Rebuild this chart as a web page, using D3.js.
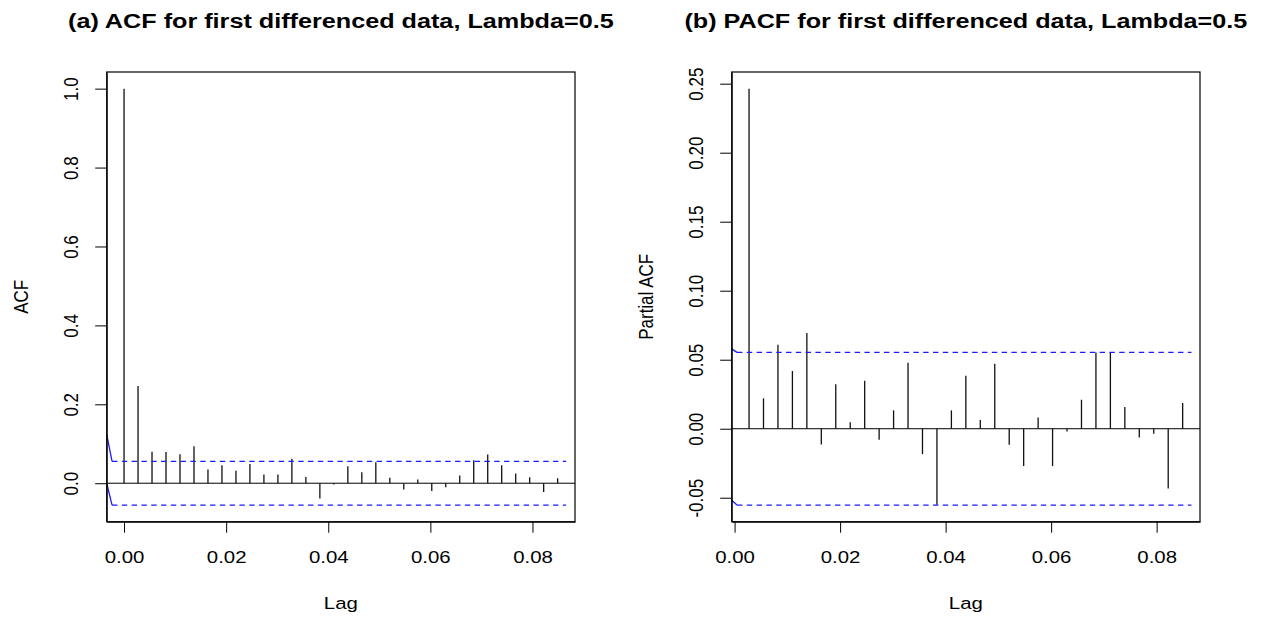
<!DOCTYPE html>
<html>
<head>
<meta charset="utf-8">
<script src="https://cdn.jsdelivr.net/npm/d3@7"></script>
<style>
  body { margin: 0; background: #fff; }
  text { font-family: "Liberation Sans", Arial, sans-serif; fill: #000; }
</style>
</head>
<body>
<svg id="chart"></svg>
<script>
// lags are k/365 (daily series)
const acfLags = d3.range(0, 32);
const acfValues = [1.0, 0.2466, 0.0797, 0.079, 0.0737, 0.094, 0.0347, 0.0458, 0.0314, 0.049,
  0.022, 0.022, 0.0619, 0.016, -0.039, -0.003, 0.0432, 0.028, 0.0534, 0.0136,
  -0.016, 0.0093, -0.0195, -0.0102, 0.0195, 0.0585, 0.073, 0.0458, 0.0246, 0.0153,
  -0.022, 0.0127];

const pacfLags = d3.range(1, 32);
const pacfValues = [0.2464, 0.022, 0.0609, 0.0418, 0.0693, -0.0114, 0.0323, 0.0046, 0.0348, -0.008,
  0.0133, 0.0478, -0.0184, -0.0551, 0.0133, 0.0384, 0.0063, 0.0471, -0.0116, -0.0271,
  0.0082, -0.0271, -0.002, 0.021, 0.0553, 0.0553, 0.0157, -0.0063, -0.0036, -0.0433,
  0.0186];

const ciLevel = 0.0553;
// confidence band polylines [lag, value]; first segment is the solid lead-in
const acfCiUpper = [[-0.0034, 0.124], [-0.00235, 0.0553], [0.0866, 0.0553]];
const acfCiLower = [[-0.0034, 0.0], [-0.00235, -0.0553], [0.0866, -0.0553]];
const pacfCiUpper = [[-0.0005, 0.0577], [0.00046, 0.0553], [0.0866, 0.0553]];
const pacfCiLower = [[-0.0005, -0.052], [0.00046, -0.0553], [0.0866, -0.0553]];

const lagTicks = [0, 0.02, 0.04, 0.06, 0.08];
const acfTicks = [0, 0.2, 0.4, 0.6, 0.8, 1.0];
const pacfTicks = [-0.05, 0, 0.05, 0.10, 0.15, 0.20, 0.25];

const titles = ['(a) ACF for first differenced data, Lambda=0.5', '(b) PACF for first differenced data, Lambda=0.5'];

const stretch = 'scale(1.2,1)';

class AcfChart {

  constructor(_config, _data) {
    this.config = {
      parent: _config.parent,
      left: _config.left,
      right: _config.right,
      top: _config.top || 72,
      bottom: _config.bottom || 521.7,
      title: _config.title,
      ylabel: _config.ylabel,
      yTicks: _config.yTicks,
      yFormat: _config.yFormat
    };
    this.data = _data;
    this.initVis();
  }

  initVis() {
    let vis = this;
    const c = vis.config;

    // R-style 4% range extension
    const lagExt = d3.extent(vis.data.lags, k => k / 365);
    const xPad = (lagExt[1] - lagExt[0]) * 0.04;
    const yMin = Math.min(d3.min(vis.data.values), -ciLevel);
    const yMax = Math.max(d3.max(vis.data.values), ciLevel);
    const yPad = (yMax - yMin) * 0.04;

    vis.xScale = d3.scaleLinear()
        .domain([lagExt[0] - xPad, lagExt[1] + xPad])
        .range([c.left, c.right]);

    vis.yScale = d3.scaleLinear()
        .domain([yMin - yPad, yMax + yPad])
        .range([c.bottom, c.top]);

    vis.g = c.parent.append('g');

    const clipId = 'clip' + Math.round(c.left);
    vis.g.append('clipPath').attr('id', clipId)
      .append('rect')
        .attr('x', c.left).attr('y', c.top)
        .attr('width', c.right - c.left).attr('height', c.bottom - c.top);

    vis.plot = vis.g.append('g').attr('clip-path', `url(#${clipId})`);

    // axes
    vis.xAxis = d3.axisBottom(vis.xScale)
        .tickValues(lagTicks)
        .tickFormat(d => d.toFixed(2))
        .tickSizeInner(11)
        .tickSizeOuter(0);

    vis.yAxis = d3.axisLeft(vis.yScale)
        .tickValues(c.yTicks)
        .tickFormat(c.yFormat)
        .tickSizeInner(11.5)
        .tickSizeOuter(0);

    vis.xAxisG = vis.g.append('g')
        .attr('transform', `translate(0,${c.bottom})`)
        .call(vis.xAxis);

    vis.yAxisG = vis.g.append('g')
        .attr('transform', `translate(${c.left},0)`)
        .call(vis.yAxis);

    vis.xAxisG.selectAll('.tick text')
        .attr('y', null).attr('dy', null)
        .attr('text-anchor', 'middle')
        .attr('font-size', 17)
        .attr('transform', `translate(0,41.5) ${stretch}`);

    vis.yAxisG.selectAll('.tick text')
        .attr('x', null).attr('dy', null)
        .attr('text-anchor', 'middle')
        .attr('font-size', 17)
        .attr('transform', `translate(-28.4,0) ${stretch} rotate(-90)`);

    [vis.xAxisG, vis.yAxisG].forEach(a => {
      a.selectAll('line').attr('stroke', '#000').attr('stroke-width', 1);
      a.select('.domain').attr('stroke', '#000');
      a.attr('font-family', null);
    });

    // box
    vis.g.append('rect')
        .attr('x', c.left).attr('y', c.top)
        .attr('width', c.right - c.left).attr('height', c.bottom - c.top)
        .attr('fill', 'none')
        .attr('stroke', '#000')
        .attr('stroke-width', 1.2);

    // title and labels
    const cx = (c.left + c.right) / 2;
    vis.g.append('text')
        .attr('text-anchor', 'middle')
        .attr('font-size', 21)
        .attr('font-weight', 'bold')
        .attr('transform', `translate(${cx},28) ${stretch}`)
        .text(c.title);

    vis.g.append('text')
        .attr('text-anchor', 'middle')
        .attr('font-size', 17)
        .attr('transform', `translate(${cx},609) ${stretch}`)
        .text('Lag');

    vis.g.append('text')
        .attr('text-anchor', 'middle')
        .attr('font-size', 17)
        .attr('transform', `translate(${c.left - 78.4},${(c.top + c.bottom) / 2}) ${stretch} rotate(-90)`)
        .text(c.ylabel);

    vis.renderVis();
  }

  renderVis() {
    let vis = this;
    const pts = vis.data.lags.map((k, i) => ({lag: k / 365, value: vis.data.values[i]}));

    // zero line
    vis.plot.append('line')
        .attr('x1', vis.config.left).attr('x2', vis.config.right)
        .attr('y1', vis.yScale(0)).attr('y2', vis.yScale(0))
        .attr('stroke', '#000')
        .attr('stroke-width', 1);

    // spikes
    vis.plot.selectAll('.spike')
        .data(pts)
      .join('line')
        .attr('class', 'spike')
        .attr('x1', d => vis.xScale(d.lag))
        .attr('x2', d => vis.xScale(d.lag))
        .attr('y1', vis.yScale(0))
        .attr('y2', d => vis.yScale(d.value))
        .attr('stroke', '#111')
        .attr('stroke-width', 1.3);

    // confidence bands: solid lead-in, then dashed
    const line = d3.line()
        .x(d => vis.xScale(d[0]))
        .y(d => vis.yScale(d[1]));

    vis.plot.selectAll('.ci-lead')
        .data(vis.data.ci.map(p => p.slice(0, 2)))
      .join('path')
        .attr('class', 'ci-lead')
        .attr('d', line)
        .attr('fill', 'none')
        .attr('stroke', '#1a1aff')
        .attr('stroke-width', 1.3);

    vis.plot.selectAll('.ci')
        .data(vis.data.ci.map(p => p.slice(1)))
      .join('path')
        .attr('class', 'ci')
        .attr('d', line)
        .attr('fill', 'none')
        .attr('stroke', '#1a1aff')
        .attr('stroke-width', 1.3)
        .attr('stroke-dasharray', '5.4,4.4');
  }
}

const svg = d3.select('#chart')
    .attr('width', 1268)
    .attr('height', 621);

new AcfChart({
  parent: svg, left: 106.7, right: 575,
  title: titles[0], ylabel: 'ACF',
  yTicks: acfTicks, yFormat: d => d.toFixed(1)
}, {lags: acfLags, values: acfValues, ci: [acfCiUpper, acfCiLower]});

new AcfChart({
  parent: svg, left: 731.7, right: 1200,
  title: titles[1], ylabel: 'Partial ACF',
  yTicks: pacfTicks, yFormat: d => d.toFixed(2)
}, {lags: pacfLags, values: pacfValues, ci: [pacfCiUpper, pacfCiLower]});
</script>
</body>
</html>
